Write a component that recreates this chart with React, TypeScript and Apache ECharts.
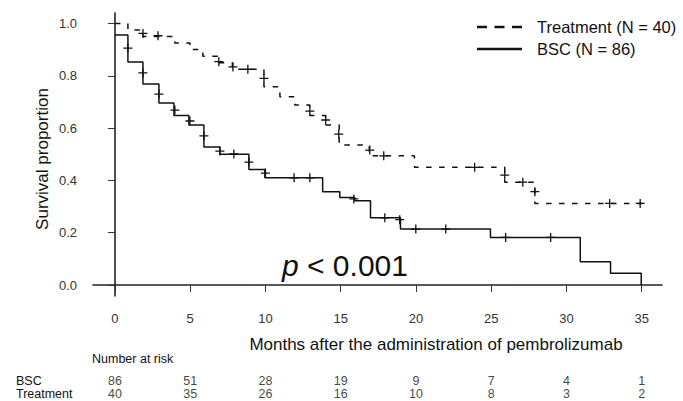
import React, { useEffect, useRef } from 'react';
import * as echarts from 'echarts';

// ---- axis ticks ----
const monthTicks = [0, 5, 10, 15, 20, 25, 30, 35];
const survTicks = [0, 0.2, 0.4, 0.6, 0.8, 1.0];

// ---- Kaplan-Meier steps (time in months, survival proportion) ----
const treatmentTimes = [0, 0.86, 1.86, 3.98, 4.98, 5.84, 6.9, 7.8, 9.9, 10.96, 11.95, 12.95, 14.0, 14.9, 16.9, 19.9, 25.9, 27.9, 35.2];
const treatmentSurv = [1.0, 0.975, 0.95, 0.925, 0.9, 0.875, 0.85, 0.825, 0.758, 0.72, 0.688, 0.648, 0.612, 0.535, 0.494, 0.45, 0.393, 0.312, 0.312];

const bscTimes = [0, 0.86, 1.86, 2.92, 3.92, 4.91, 5.91, 6.97, 8.9, 9.96, 13.8, 14.94, 15.94, 16.98, 18.97, 24.95, 30.92, 32.93, 34.97];
const bscSurv = [0.956, 0.853, 0.769, 0.696, 0.648, 0.612, 0.528, 0.5, 0.442, 0.41, 0.357, 0.335, 0.322, 0.257, 0.214, 0.182, 0.089, 0.045, 0.0];

// ---- censor marks ----
const treatmentCensorTimes = [1.86, 2.86, 6.9, 7.84, 8.83, 9.9, 12.95, 14.0, 14.87, 16.93, 17.86, 23.9, 25.9, 27.1, 27.9, 32.87, 34.9];
const treatmentCensorSurv = [0.962, 0.953, 0.854, 0.834, 0.825, 0.79, 0.665, 0.631, 0.577, 0.516, 0.494, 0.45, 0.42, 0.393, 0.357, 0.312, 0.312];

const bscCensorTimes = [0.86, 1.86, 2.92, 3.98, 4.98, 5.91, 6.97, 7.9, 8.9, 10.0, 11.9, 12.95, 15.87, 17.93, 18.92, 19.99, 21.98, 25.96, 28.95];
const bscCensorSurv = [0.906, 0.811, 0.73, 0.669, 0.627, 0.57, 0.512, 0.501, 0.47, 0.428, 0.41, 0.41, 0.329, 0.257, 0.25, 0.214, 0.214, 0.182, 0.182];

// ---- number at risk ----
const riskRows = ['BSC', 'Treatment'];
const riskBSC = [86, 51, 28, 19, 9, 7, 4, 1];
const riskTreatment = [40, 35, 26, 16, 10, 8, 3, 2];

const TREAT = 'Treatment (N = 40)';
const BSC = 'BSC (N = 86)';
const FONT = '"Liberation Sans", Arial, Helvetica, sans-serif';
const INK = '#111';

const zip = (a: number[], b: number[]) => a.map((v, i) => [v, b[i]]);
const crossSymbol = 'path://M4,0L4,8M0,4L8,4';

export default function App() {
  const ref = useRef<HTMLDivElement>(null);

  useEffect(() => {
    if (!ref.current) return;
    const chart = echarts.init(ref.current, undefined, { renderer: 'svg' });

    const riskData: any[] = [];
    monthTicks.forEach((m, i) => {
      riskData.push([m, riskRows[0], riskBSC[i]]);
      riskData.push([m, riskRows[1], riskTreatment[i]]);
    });

    const censorSeries = (name: string, t: number[], s: number[]) => ({
      type: 'scatter',
      name,
      xAxisIndex: 0,
      yAxisIndex: 0,
      symbol: crossSymbol,
      symbolSize: 9,
      itemStyle: { color: 'rgba(0,0,0,0)', borderColor: INK, borderWidth: 1.3, opacity: 1 },
      silent: true,
      z: 3,
      data: zip(t, s),
    });

    const legendLine = (y: number, dash: number[] | null) => ({
      type: 'line',
      shape: { x1: 477, y1: y, x2: 522, y2: y },
      style: { stroke: INK, lineWidth: 2.5, lineDash: dash || undefined },
      silent: true,
    });
    const legendText = (y: number, text: string) => ({
      type: 'text',
      x: 537,
      y,
      style: { text, font: `16.5px ${FONT}`, fill: INK, align: 'left', verticalAlign: 'middle' },
      silent: true,
    });

    chart.setOption({
      animation: false,
      backgroundColor: '#fff',
      textStyle: { fontFamily: FONT },
      grid: [
        { left: 93, right: 21, top: 13, bottom: 105 },
        { left: 93, right: 21, top: 374.5, height: 26 },
      ],
      xAxis: [
        {
          type: 'value',
          gridIndex: 0,
          min: -1.46,
          max: 36.35,
          splitLine: { show: false },
          axisLine: { show: true, lineStyle: { color: '#222', width: 1.6 } },
          axisTick: { show: true, length: 7, customValues: monthTicks, lineStyle: { color: '#333', width: 1 } },
          axisLabel: { customValues: monthTicks, margin: 16, fontSize: 13, color: '#333', fontFamily: FONT },
        },
        {
          type: 'value',
          gridIndex: 1,
          min: -1.46,
          max: 36.35,
          show: false,
        },
      ],
      yAxis: [
        {
          type: 'value',
          gridIndex: 0,
          min: -0.042,
          max: 1.04,
          splitLine: { show: false },
          axisLine: { show: true, lineStyle: { color: '#222', width: 1.6 } },
          axisTick: { show: true, length: 7, customValues: survTicks, lineStyle: { color: '#333', width: 1 } },
          axisLabel: {
            customValues: survTicks,
            margin: 16,
            fontSize: 13,
            color: '#333',
            fontFamily: FONT,
            formatter: (v: number) => v.toFixed(1),
          },
        },
        {
          type: 'category',
          gridIndex: 1,
          data: riskRows,
          inverse: true,
          axisLine: { show: false },
          axisTick: { show: false },
          splitLine: { show: false },
          axisLabel: { interval: 0, align: 'left', margin: 77, fontSize: 12.5, color: '#111', fontFamily: FONT },
        },
      ],
      series: [
        {
          type: 'line',
          name: TREAT,
          xAxisIndex: 0,
          yAxisIndex: 0,
          step: 'end',
          symbol: 'none',
          color: INK,
          lineStyle: { color: INK, width: 1.5, type: [5.5, 7.5] },
          data: zip(treatmentTimes, treatmentSurv),
          z: 2,
        },
        {
          type: 'line',
          name: BSC,
          xAxisIndex: 0,
          yAxisIndex: 0,
          step: 'end',
          symbol: 'none',
          color: INK,
          lineStyle: { color: INK, width: 1.5, type: 'solid' },
          data: zip(bscTimes, bscSurv),
          z: 2,
        },
        censorSeries('Treatment censored', treatmentCensorTimes, treatmentCensorSurv),
        censorSeries('BSC censored', bscCensorTimes, bscCensorSurv),
        {
          type: 'scatter',
          name: 'Number at risk',
          xAxisIndex: 1,
          yAxisIndex: 1,
          symbolSize: 1,
          itemStyle: { color: 'rgba(0,0,0,0)' },
          silent: true,
          label: {
            show: true,
            position: 'inside',
            fontSize: 12.5,
            color: '#111',
            fontFamily: FONT,
            formatter: (p: any) => String(p.value[2]),
          },
          data: riskData,
        },
      ],
      graphic: [
        legendLine(27, [10, 7.5]),
        legendLine(49, null),
        legendText(27, TREAT),
        legendText(49, BSC),
        {
          type: 'text',
          x: 42,
          y: 159,
          rotation: Math.PI / 2,
          style: {
            text: 'Survival proportion',
            font: `17px ${FONT}`,
            fill: INK,
            align: 'center',
            verticalAlign: 'middle',
          },
        },
        {
          type: 'text',
          x: 436,
          y: 344.5,
          style: {
            text: 'Months after the administration of pembrolizumab',
            font: `17px ${FONT}`,
            fill: INK,
            align: 'center',
            verticalAlign: 'middle',
          },
        },
        {
          type: 'text',
          x: 92,
          y: 358.7,
          style: {
            text: 'Number at risk',
            font: `12.5px ${FONT}`,
            fill: INK,
            align: 'left',
            verticalAlign: 'middle',
          },
        },
        {
          type: 'text',
          x: 282,
          y: 265.5,
          style: {
            text: '{i|p} < 0.001',
            font: `30px ${FONT}`,
            fill: INK,
            align: 'left',
            verticalAlign: 'middle',
            rich: {
              i: { fontStyle: 'italic', fontSize: 30, fontFamily: FONT, fill: INK },
            },
          },
        },
      ],
    });

    return () => chart.dispose();
  }, []);

  return (
    <div
      ref={ref}
      style={{ position: 'fixed', left: 0, top: 0, width: 683, height: 401, background: '#fff' }}
    />
  );
}
